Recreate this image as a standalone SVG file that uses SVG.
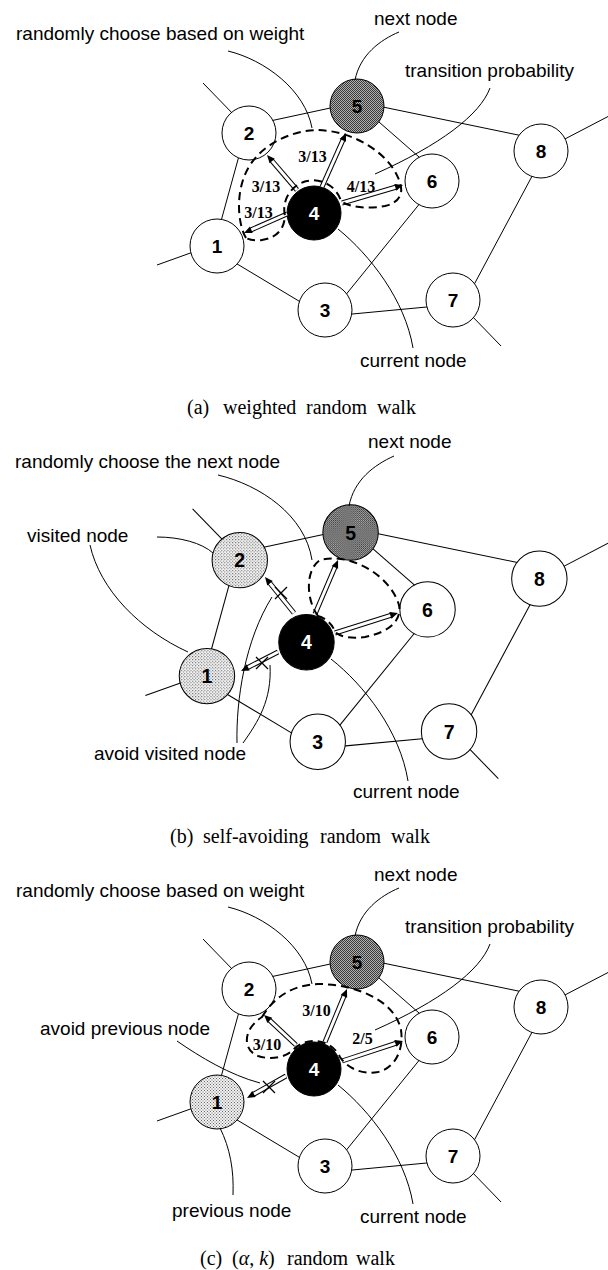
<svg xmlns="http://www.w3.org/2000/svg" width="608" height="1270" viewBox="0 0 608 1270">
<defs>
<style>
.e{stroke:#000;stroke-width:1;fill:none}
circle.n{fill:#fff;stroke:#000;stroke-width:1}
circle.k{fill:#000}
circle.c{fill:url(#chk)}
circle.d{fill:url(#dot)}
text.l{font-family:"Liberation Sans",Arial,sans-serif;font-weight:bold;font-size:19px;text-anchor:middle;fill:#000}
text.wt{fill:#fff}
.ann{font-family:"Liberation Sans",Arial,sans-serif;font-size:19px;fill:#000}
.cap{font-family:"Liberation Serif","Times New Roman",serif;font-size:20px;fill:#000}
.w{font-family:"Liberation Serif","Times New Roman",serif;font-weight:bold;font-size:16px;text-anchor:middle;fill:#000}
.dash{fill:none;stroke:#000;stroke-width:2;stroke-dasharray:8 5}
.ao{stroke:#000;stroke-width:5}
.ai{stroke:#fff;stroke-width:3}
.ah{fill:#000}
.x{stroke:#000;stroke-width:1.3}
.cv{fill:none;stroke:#000;stroke-width:1}
</style>
<pattern id="chk" width="2" height="2" patternUnits="userSpaceOnUse"><rect width="2" height="2" fill="#b0b0b0"/><rect width="1" height="1" fill="#3a3a3a"/><rect x="1" y="1" width="1" height="1" fill="#3a3a3a"/></pattern>
<pattern id="dot" width="3" height="3" patternUnits="userSpaceOnUse"><rect width="3" height="3" fill="#f2f2f2"/><rect width="1" height="1" fill="#666"/><rect x="1.5" y="1.5" width="1" height="1" fill="#666"/></pattern>
</defs>
<rect width="608" height="1270" fill="#fff"/>

<!-- ================= Panel (a) ================= -->
<g id="a-edges" class="e">
<line x1="203" y1="83" x2="235" y2="116"/>
<line x1="270" y1="121" x2="335" y2="107"/>
<line x1="239.5" y1="154" x2="220.5" y2="223"/>
<line x1="157" y1="265" x2="196" y2="251"/>
<line x1="233" y1="261.5" x2="303" y2="303.5"/>
<line x1="344" y1="297" x2="421" y2="202"/>
<line x1="347" y1="314.5" x2="432" y2="306.5"/>
<line x1="375" y1="118.5" x2="423" y2="160.5"/>
<line x1="378" y1="106" x2="523" y2="136"/>
<line x1="562" y1="140.5" x2="608" y2="116.5"/>
<line x1="534" y1="172.5" x2="472.5" y2="287.5"/>
<line x1="470.5" y1="314.5" x2="501" y2="346"/>
</g>
<g id="a-node1"><circle class="n" cx="217" cy="246" r="27"/><text class="l" x="217" y="253">1</text></g>
<g id="a-node2"><circle class="n" cx="249" cy="133" r="27"/><text class="l" x="249" y="140">2</text></g>
<g id="a-node3"><circle class="n" cx="325" cy="310" r="27"/><text class="l" x="325" y="317">3</text></g>
<g id="a-node4"><circle class="n k" cx="314" cy="213" r="27"/><text class="l wt" x="314" y="220">4</text></g>
<g id="a-node5"><circle class="n c" cx="357" cy="106" r="27"/><text class="l" x="357" y="113">5</text></g>
<g id="a-node6"><circle class="n" cx="432" cy="181" r="27"/><text class="l" x="432" y="188">6</text></g>
<g id="a-node7"><circle class="n" cx="453" cy="300" r="27"/><text class="l" x="453" y="307">7</text></g>
<g id="a-node8"><circle class="n" cx="541" cy="151" r="27"/><text class="l" x="541" y="158">8</text></g>
<g id="a-arrows">
<g transform="translate(297,190) rotate(-130.6)"><line x2="40.1" class="ao"/><line x2="40.1" class="ai"/><path class="ah" d="M46.1,0 l-8,-3.5 v7 z"/></g>
<g transform="translate(322,187) rotate(-66)"><line x2="53.1" class="ao"/><line x2="53.1" class="ai"/><path class="ah" d="M59.1,0 l-8,-3.5 v7 z"/></g>
<g transform="translate(342,203) rotate(-16.4)"><line x2="57.6" class="ao"/><line x2="57.6" class="ai"/><path class="ah" d="M63.6,0 l-8,-3.5 v7 z"/></g>
<g transform="translate(287,214) rotate(156.2)"><line x2="41" class="ao"/><line x2="41" class="ai"/><path class="ah" d="M47,0 l-8,-3.5 v7 z"/></g>
<path class="dash" d="M246,238 C238,225 234,190 250,165 C265,142 295,130 318,130 C355,131 392,155 400,183 C404,195 398,203 385,206 C370,209 350,208 341,201 A29,29 0 0 0 285,216 C284,230 276,238 262,240 C255,241 250,240 246,238 Z"/>
</g>
<g id="a-weights">
<text class="w" x="312.5" y="162">3/13</text>
<text class="w" x="266" y="191.5">3/13</text>
<text class="w" x="361" y="191.5">4/13</text>
<text class="w" x="258.5" y="217.5">3/13</text>
</g>
<g id="a-notes">
<path class="cv" d="M228,51 C265,60 305,90 312,128"/>
<path class="cv" d="M399,32 C380,40 360,55 355,80"/>
<path class="cv" d="M490,88 C480,115 440,145 375,174"/>
<path class="cv" d="M338,229 C370,255 405,300 413,348"/>
<text class="ann" x="16" y="40">randomly choose based on weight</text>
<text class="ann" x="374" y="25">next node</text>
<text class="ann" x="405" y="77">transition probability</text>
<text class="ann" x="360" y="367">current node</text>
</g>
<text class="cap" y="414"><tspan x="187">(a)</tspan><tspan x="223">weighted</tspan><tspan x="306">random</tspan><tspan x="377">walk</tspan></text>

<!-- ================= Panel (b) ================= -->
<g id="b-graph" transform="translate(-15.7,423.7) scale(1.026)">
<g id="b-edges" class="e">
<line x1="203" y1="83" x2="235" y2="116"/>
<line x1="270" y1="121" x2="335" y2="107"/>
<line x1="239.5" y1="154" x2="220.5" y2="223"/>
<line x1="157" y1="265" x2="196" y2="251"/>
<line x1="233" y1="261.5" x2="303" y2="303.5"/>
<line x1="344" y1="297" x2="421" y2="202"/>
<line x1="347" y1="314.5" x2="432" y2="306.5"/>
<line x1="375" y1="118.5" x2="423" y2="160.5"/>
<line x1="378" y1="106" x2="523" y2="136"/>
<line x1="562" y1="140.5" x2="608" y2="116.5"/>
<line x1="534" y1="172.5" x2="472.5" y2="287.5"/>
<line x1="470.5" y1="314.5" x2="501" y2="346"/>
</g>
<g id="b-node1"><circle class="n d" cx="217" cy="246" r="27"/><text class="l" x="217" y="253">1</text></g>
<g id="b-node2"><circle class="n d" cx="249" cy="133" r="27"/><text class="l" x="249" y="140">2</text></g>
<g id="b-node3"><circle class="n" cx="325" cy="310" r="27"/><text class="l" x="325" y="317">3</text></g>
<g id="b-node4"><circle class="n k" cx="314" cy="213" r="27"/><text class="l wt" x="314" y="220">4</text></g>
<g id="b-node5"><circle class="n c" cx="357" cy="106" r="27"/><text class="l" x="357" y="113">5</text></g>
<g id="b-node6"><circle class="n" cx="432" cy="181" r="27"/><text class="l" x="432" y="188">6</text></g>
<g id="b-node7"><circle class="n" cx="453" cy="300" r="27"/><text class="l" x="453" y="307">7</text></g>
<g id="b-node8"><circle class="n" cx="541" cy="151" r="27"/><text class="l" x="541" y="158">8</text></g>
</g>
<g id="b-arrows">
<g transform="translate(294,613) rotate(-128.9)"><line x2="40.2" class="ao"/><line x2="40.2" class="ai"/><path class="ah" d="M46.2,0 l-8,-3.5 v7 z"/></g>
<g transform="translate(315,614) rotate(-66.9)"><line x2="52.7" class="ao"/><line x2="52.7" class="ai"/><path class="ah" d="M58.7,0 l-8,-3.5 v7 z"/></g>
<g transform="translate(335,633) rotate(-17.6)"><line x2="60.1" class="ao"/><line x2="60.1" class="ai"/><path class="ah" d="M66.1,0 l-8,-3.5 v7 z"/></g>
<g transform="translate(278,652) rotate(152.8)"><line x2="35.6" class="ao"/><line x2="35.6" class="ai"/><path class="ah" d="M41.6,0 l-8,-3.5 v7 z"/></g>
<path class="x" d="M275,587 L287,599 M275,599 L287,587"/>
<path class="x" d="M256,657 L268,669 M256,669 L268,657"/>
<path class="dash" d="M318,616 C306,600 305,570 320,560 C350,552 390,575 399,605 C402,620 390,632 365,637 C352,639 340,637 335,632 C333,625 326,618 318,616 Z"/>
</g>
<g id="b-notes">
<path class="cv" d="M218,475 C260,485 305,515 312,560"/>
<path class="cv" d="M394,456 C374,465 354,480 349,506"/>
<path class="cv" d="M157,537 C180,537 202,543 213,553"/>
<path class="cv" d="M90,545 C100,590 140,630 188,652"/>
<path class="cv" d="M237,743 C236,700 245,640 272,597"/>
<path class="cv" d="M243,743 C258,722 272,700 270,665"/>
<path class="cv" d="M331,659 C364,685 400,731 408,781"/>
<text class="ann" x="15" y="468">randomly choose the next node</text>
<text class="ann" x="368" y="448">next node</text>
<text class="ann" x="27" y="542">visited node</text>
<text class="ann" x="94" y="760">avoid visited node</text>
<text class="ann" x="353" y="798">current node</text>
</g>
<text class="cap" y="843"><tspan x="170">(b)</tspan><tspan x="203">self-avoiding</tspan><tspan x="320">random</tspan><tspan x="391">walk</tspan></text>

<!-- ================= Panel (c) ================= -->
<g id="c-graph" transform="translate(0,856)">
<g id="c-edges" class="e">
<line x1="203" y1="83" x2="235" y2="116"/>
<line x1="270" y1="121" x2="335" y2="107"/>
<line x1="239.5" y1="154" x2="220.5" y2="223"/>
<line x1="157" y1="265" x2="196" y2="251"/>
<line x1="233" y1="261.5" x2="303" y2="303.5"/>
<line x1="344" y1="297" x2="421" y2="202"/>
<line x1="347" y1="314.5" x2="432" y2="306.5"/>
<line x1="375" y1="118.5" x2="423" y2="160.5"/>
<line x1="378" y1="106" x2="523" y2="136"/>
<line x1="562" y1="140.5" x2="608" y2="116.5"/>
<line x1="534" y1="172.5" x2="472.5" y2="287.5"/>
<line x1="470.5" y1="314.5" x2="501" y2="346"/>
</g>
<g id="c-node1"><circle class="n d" cx="217" cy="246" r="27"/><text class="l" x="217" y="253">1</text></g>
<g id="c-node2"><circle class="n" cx="249" cy="133" r="27"/><text class="l" x="249" y="140">2</text></g>
<g id="c-node3"><circle class="n" cx="325" cy="310" r="27"/><text class="l" x="325" y="317">3</text></g>
<g id="c-node4"><circle class="n k" cx="314" cy="213" r="27"/><text class="l wt" x="314" y="220">4</text></g>
<g id="c-node5"><circle class="n c" cx="357" cy="106" r="27"/><text class="l" x="357" y="113">5</text></g>
<g id="c-node6"><circle class="n" cx="432" cy="181" r="27"/><text class="l" x="432" y="188">6</text></g>
<g id="c-node7"><circle class="n" cx="453" cy="300" r="27"/><text class="l" x="453" y="307">7</text></g>
<g id="c-node8"><circle class="n" cx="541" cy="151" r="27"/><text class="l" x="541" y="158">8</text></g>
</g>
<g id="c-arrows">
<g transform="translate(296,1045) rotate(-136.8)"><line x2="37.9" class="ao"/><line x2="37.9" class="ai"/><path class="ah" d="M43.9,0 l-8,-3.5 v7 z"/></g>
<g transform="translate(325,1042) rotate(-67.5)"><line x2="51.4" class="ao"/><line x2="51.4" class="ai"/><path class="ah" d="M57.4,0 l-8,-3.5 v7 z"/></g>
<g transform="translate(342,1061) rotate(-18.2)"><line x2="58.2" class="ao"/><line x2="58.2" class="ai"/><path class="ah" d="M64.2,0 l-8,-3.5 v7 z"/></g>
<g transform="translate(286,1076) rotate(150.6)"><line x2="38.8" class="ao"/><line x2="38.8" class="ai"/><path class="ah" d="M44.8,0 l-8,-3.5 v7 z"/></g>
<path class="x" d="M263,1081 L275,1093 M263,1093 L275,1081"/>
<path class="dash" d="M262,1017 C275,995 295,985 318,984 C355,984 395,1000 401,1030 C404,1050 395,1068 378,1072 C362,1075 347,1068 340,1057 A29,29 0 0 0 293,1050 C285,1058 270,1060 258,1056 C243,1050 242,1030 262,1017 Z"/>
</g>
<g id="c-weights">
<text class="w" x="316.5" y="1015.5">3/10</text>
<text class="w" x="267" y="1050">3/10</text>
<text class="w" x="362.5" y="1044">2/5</text>
</g>
<g id="c-notes">
<path class="cv" d="M228,907 C265,916 305,946 312,984"/>
<path class="cv" d="M399,888 C380,896 360,911 355,936"/>
<path class="cv" d="M490,944 C480,971 440,1001 375,1030"/>
<path class="cv" d="M338,1085 C370,1111 405,1156 413,1204"/>
<path class="cv" d="M177,1041 C200,1057 230,1075 260,1083"/>
<path class="cv" d="M220,1128 C230,1148 234,1170 233,1195"/>
<text class="ann" x="16" y="897">randomly choose based on weight</text>
<text class="ann" x="374" y="881">next node</text>
<text class="ann" x="405" y="933">transition probability</text>
<text class="ann" x="40" y="1035">avoid previous node</text>
<text class="ann" x="172" y="1217">previous node</text>
<text class="ann" x="360" y="1223">current node</text>
</g>
<text class="cap" y="1265"><tspan x="200">(c)</tspan><tspan x="232">(<tspan font-style="italic">α</tspan>, <tspan font-style="italic">k</tspan>)</tspan><tspan x="287">random</tspan><tspan x="356">walk</tspan></text>
</svg>
